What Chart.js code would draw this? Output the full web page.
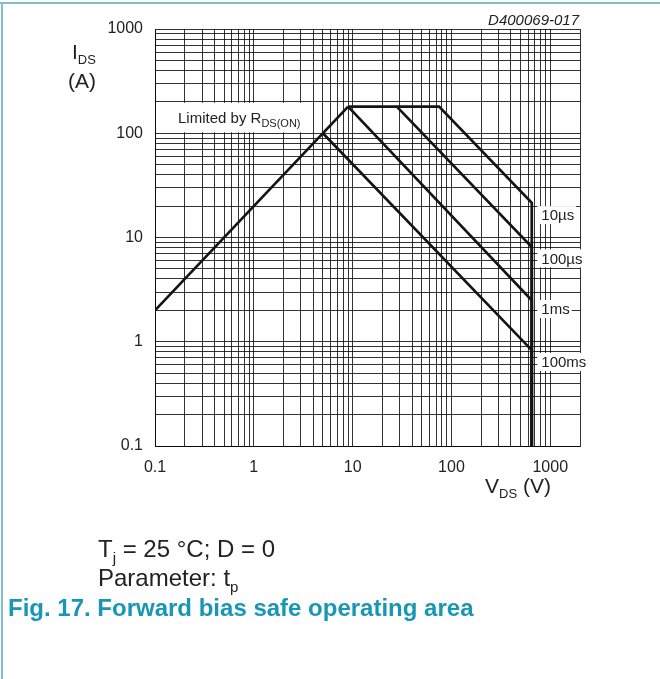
<!DOCTYPE html>
<html>
<head>
<meta charset="utf-8">
<script src="https://cdn.jsdelivr.net/npm/chart.js@4/dist/chart.umd.min.js"></script>
<style>
  body { margin: 0; background: #fff; }
  #wrap { position: relative; width: 660px; height: 679px; overflow: hidden; font-family: "Liberation Sans", Arial, sans-serif; }
  #soa { position: absolute; left: 0; top: 0; }
  .frame-top { position: absolute; left: 0; top: 2px; width: 660px; border-top: 2px solid #82bfcd; }
  .frame-left { position: absolute; left: 1px; top: 2px; bottom: 0; border-left: 2px solid #82bfcd; }
  .cap { position: absolute; top: 534px; font-size: 24px; line-height: 29px; color: #222; }
  .cap .sub { font-size: 15px; line-height: 0; position: relative; top: 6px; }
  .fig { color: #1896b6; font-weight: bold; }
</style>
</head>
<body>
<div id="wrap">
  <canvas id="soa" width="660" height="679"></canvas>
  <div class="frame-top"></div>
  <div class="frame-left"></div>
  <div class="cap" style="left:98px">T<span class="sub">j</span> = 25 °C; D = 0<br>Parameter: t<span class="sub">p</span></div>
  <div class="cap fig" style="left:8px; top:593px">Fig. 17. Forward bias safe operating area</div>
</div>
<script>
// valores (V em volts, I em amperes)
const rdsV = [0.1, 9];
const rdsI = [2, 180];
const v10us = [9, 75, 650, 650];
const i10us = [180, 180, 21.5, 0.1];
const v100us = [28, 650, 650];
const i100us = [180, 8.1, 0.1];
const v1ms = [9, 650, 650];
const i1ms = [180, 2.5, 0.1];
const v100ms = [5, 650, 650];
const i100ms = [100, 0.83, 0.1];

const pulseLabels = ['10µs', '100µs', '1ms', '100ms'];
const xTickLabels = ['0.1', '1', '10', '100', '1000'];
const yTickLabels = ['0.1', '1', '10', '100', '1000'];

const FONT = '"Liberation Sans", Arial, sans-serif';
const gridColor = 'rgba(0,0,0,0.8)';

const pts = (v, i) => v.map((x, k) => ({ x: x, y: i[k] }));

function labelFor(value, labels) {
    const hit = labels.find(l => Math.abs(Number(l) - value) < 1e-9 * Math.max(1, value));
    return hit === undefined ? '' : hit;
}

// só 1..9 por década (o Chart.js v4 mete também 1.5, 15, ...)
function keepWholeSteps(axis) {
    axis.ticks = axis.ticks.filter(t => {
        const m = t.value / Math.pow(10, Math.floor(Math.log10(t.value) + 1e-9));
        return Math.abs(m - Math.round(m)) < 1e-6;
    });
}

function subText(ctx, x, y, main, sub, size, subSize, after) {
    ctx.font = size + 'px ' + FONT;
    ctx.fillText(main, x, y);
    let w = ctx.measureText(main).width;
    ctx.font = subSize + 'px ' + FONT;
    ctx.fillText(sub, x + w, y + size * 0.25);
    w += ctx.measureText(sub).width;
    if (after) {
        ctx.font = size + 'px ' + FONT;
        ctx.fillText(after, x + w, y);
        w += ctx.measureText(after).width;
    }
    return w;
}

const annotations = {
    id: 'annotations',
    beforeDatasetsDraw(chart) {
        const { ctx, scales: { x, y } } = chart;
        ctx.save();
        ctx.fillStyle = '#222';
        ctx.textBaseline = 'alphabetic';
        ctx.textAlign = 'left';

        // Limited by R_DS(ON)
        const lx = x.getPixelForValue(0.171);
        const top = y.getPixelForValue(200) + 1;
        const bot = y.getPixelForValue(100) - 1;
        ctx.font = '15px ' + FONT;
        let w = ctx.measureText('Limited by R').width;
        ctx.font = '11px ' + FONT;
        w += ctx.measureText('DS(ON)').width;
        ctx.fillStyle = '#fff';
        ctx.fillRect(lx - 16, top, w + 24, bot - top);
        ctx.fillStyle = '#222';
        subText(ctx, lx, y.getPixelForValue(125), 'Limited by R', 'DS(ON)', 15, 11);

        // etiquetas dos impulsos
        const at = [16.4, 6.3, 2.06, 0.64];
        const bx = x.getPixelForValue(740);
        ctx.font = '15px ' + FONT;
        ctx.textBaseline = 'middle';
        pulseLabels.forEach((t, k) => {
            const py = y.getPixelForValue(at[k]);
            const tw = ctx.measureText(t).width;
            ctx.fillStyle = '#fff';
            ctx.fillRect(bx, py - 9, tw + 6, 18);
            ctx.fillStyle = '#222';
            ctx.fillText(t, bx + 4, py + 1);
        });
        ctx.restore();
    },
    afterDraw(chart) {
        const { ctx, chartArea: ca } = chart;
        ctx.save();
        ctx.fillStyle = '#222';
        ctx.textBaseline = 'alphabetic';

        ctx.textAlign = 'right';
        ctx.font = 'italic 15px ' + FONT;
        ctx.fillText('D400069-017', ca.right - 1, 25);

        ctx.textAlign = 'left';
        subText(ctx, 72, 59, 'I', 'DS', 21, 13);
        ctx.font = '21px ' + FONT;
        ctx.fillText('(A)', 68, 88);

        subText(ctx, 485, 493, 'V', 'DS', 21, 13, ' (V)');
        ctx.restore();
    }
};

const curve = (data) => ({
    data: data,
    showLine: true,
    borderColor: '#141414',
    borderWidth: 2.7,
    pointRadius: 0,
    pointHoverRadius: 0,
    fill: false,
    tension: 0
});

new Chart(document.getElementById('soa'), {
    type: 'scatter',
    data: {
        datasets: [
            curve(pts(rdsV, rdsI)),
            curve(pts(v10us, i10us)),
            curve(pts(v100us, i100us)),
            curve(pts(v1ms, i1ms)),
            curve(pts(v100ms, i100ms))
        ]
    },
    options: {
        responsive: false,
        devicePixelRatio: 1,
        animation: false,
        events: [],
        layout: { padding: { left: 0, top: 29, right: 80, bottom: 0 } },
        plugins: { legend: { display: false }, tooltip: { enabled: false } },
        scales: {
            x: {
                type: 'logarithmic',
                min: 0.1,
                max: 2000,
                afterBuildTicks: keepWholeSteps,
                afterFit: s => { s.height = 233; },
                grid: { color: gridColor, lineWidth: 1, drawTicks: false },
                border: { color: gridColor },
                ticks: {
                    autoSkip: false, maxRotation: 0, padding: 12, color: '#222',
                    font: { size: 16, family: FONT },
                    callback: v => labelFor(v, xTickLabels)
                }
            },
            y: {
                type: 'logarithmic',
                min: 0.1,
                max: 1000,
                afterBuildTicks: keepWholeSteps,
                afterFit: s => { s.width = 155; },
                grid: { color: gridColor, lineWidth: 1, drawTicks: false },
                border: { color: gridColor },
                ticks: {
                    autoSkip: false, padding: 12, color: '#222',
                    font: { size: 16, family: FONT },
                    callback: v => labelFor(v, yTickLabels)
                }
            }
        }
    },
    plugins: [annotations]
});
</script>
</body>
</html>
